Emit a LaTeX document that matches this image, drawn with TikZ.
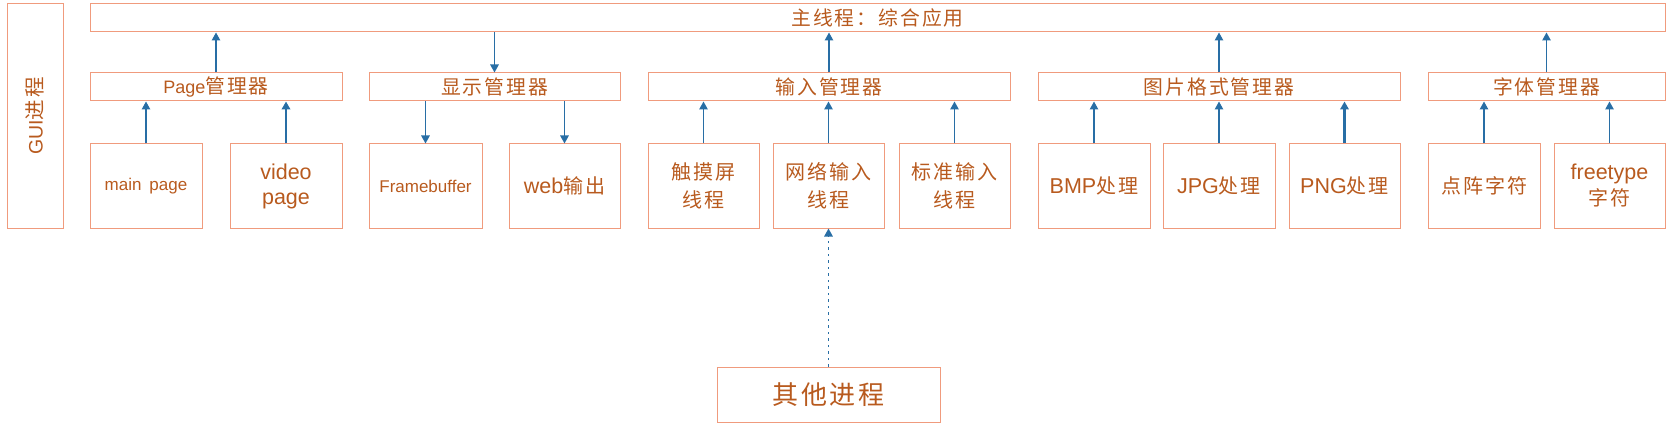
\documentclass[tikz,border=0pt]{standalone}
\usepackage{fontspec}
\setmainfont{Liberation Sans}
\newfontfamily\cjk[LetterSpace=10]{Noto Sans CJK SC}
\usetikzlibrary{arrows.meta}
\definecolor{txt}{RGB}{184,90,30}
\definecolor{bord}{RGB}{240,155,125}
\definecolor{arr}{RGB}{40,110,165}
\newcommand{\mcj}[1]{{\fontsize{19.8}{28}\selectfont\cjk #1}}
\newcommand{\mla}[1]{{\fontsize{18}{28}\selectfont #1}}
\newcommand{\ccj}[1]{{\fontsize{20}{28}\selectfont\cjk #1}}
\newcommand{\cla}[1]{{\fontsize{21.5}{26}\selectfont #1}}
\tikzset{
  box/.style={draw=bord,line width=1pt,rectangle,inner sep=0pt,text=txt,align=center},
  con/.style={draw=arr,line width=1.3pt,-{Triangle[width=8.5pt,length=8pt]}},
  mgr/.style={box,minimum height=28},
  kid/.style={box,minimum height=84,font=\fontsize{20}{27}\selectfont}
}
\begin{document}
\begin{tikzpicture}[x=1pt,y=-1pt]
\useasboundingbox (0,0) rectangle (1671,425);
\node[box,minimum width=56,minimum height=224] (gui) at (35,116) {\rotatebox{90}{{\fontsize{19.5}{22}\selectfont GUI}{\fontsize{20.5}{22}\selectfont\cjk 进程}}};
\node[mgr,minimum width=1575] (main) at (877.5,18) {\mcj{主线程：综合应用}};
% managers
\node[mgr,minimum width=252] (pm) at (216,87) {\mla{Page}\mcj{管理器}};
\node[mgr,minimum width=251] (dm) at (494.5,87) {\mcj{显示管理器}};
\node[mgr,minimum width=362] (im) at (829,87) {\mcj{输入管理器}};
\node[mgr,minimum width=362] (gm) at (1219,87) {\mcj{图片格式管理器}};
\node[mgr,minimum width=237] (fm) at (1546.5,87) {\mcj{字体管理器}};
% children
\node[kid,minimum width=112,font=\fontsize{17}{20}\selectfont] (mp) at (146,186) {main\hspace{8pt}page};
\node[kid,minimum width=112,font=\fontsize{21.5}{25}\selectfont] (vp) at (286,186) {video\\page};
\node[kid,minimum width=113,font=\fontsize{17}{20}\selectfont] (fb) at (425.5,186) {Framebuffer};
\node[kid,minimum width=111] (web) at (564.5,186) {\cla{web}\ccj{输出}};
\node[kid,minimum width=111,font=\fontsize{20}{28}\selectfont\cjk] (ts) at (703.5,186) {触摸屏\\线程};
\node[kid,minimum width=111,font=\fontsize{20}{28}\selectfont\cjk] (net) at (828.5,186) {网络输入\\线程};
\node[kid,minimum width=111,font=\fontsize{20}{28}\selectfont\cjk] (std) at (954.5,186) {标准输入\\线程};
\node[kid,minimum width=112] (bmp) at (1094,186) {\cla{BMP}\ccj{处理}};
\node[kid,minimum width=112] (jpg) at (1219,186) {\cla{JPG}\ccj{处理}};
\node[kid,minimum width=111] (png) at (1344.5,186) {\cla{PNG}\ccj{处理}};
\node[kid,minimum width=112,font=\fontsize{20}{28}\selectfont\cjk] (dot) at (1484,186) {点阵字符};
\node[kid,minimum width=111,font=\fontsize{21.5}{26}\selectfont] (ft) at (1609.5,186) {freetype\\\ccj{字符}};
\node[box,minimum width=223,minimum height=55,font=\fontsize{26}{30}\selectfont\cjk] (oth) at (828.5,394.5) {其他进程};
% arrows to main
\draw[con] (pm.north) -- (pm.north |- main.south);
\draw[con] (dm.north |- main.south) -- (dm.north);
\draw[con] (im.north) -- (im.north |- main.south);
\draw[con] (gm.north) -- (gm.north |- main.south);
\draw[con] (fm.north) -- (fm.north |- main.south);
% children arrows
\draw[con] (mp.north) -- (mp.north |- pm.south);
\draw[con,line width=2.4pt] (vp.north) -- (vp.north |- pm.south);
\draw[con] (fb.north |- dm.south) -- (fb.north);
\draw[con] (web.north |- dm.south) -- (web.north);
\draw[con] (ts.north) -- (ts.north |- im.south);
\draw[con] (net.north) -- (net.north |- im.south);
\draw[con] (std.north) -- (std.north |- im.south);
\draw[con] (bmp.north) -- (bmp.north |- gm.south);
\draw[con] (jpg.north) -- (jpg.north |- gm.south);
\draw[con,line width=2.4pt] (png.north) -- (png.north |- gm.south);
\draw[con] (dot.north) -- (dot.north |- fm.south);
\draw[con] (ft.north) -- (ft.north |- fm.south);
\draw[con,dash pattern=on 2.5pt off 4pt] (oth.north) -- (net.south);
\end{tikzpicture}
\end{document}
